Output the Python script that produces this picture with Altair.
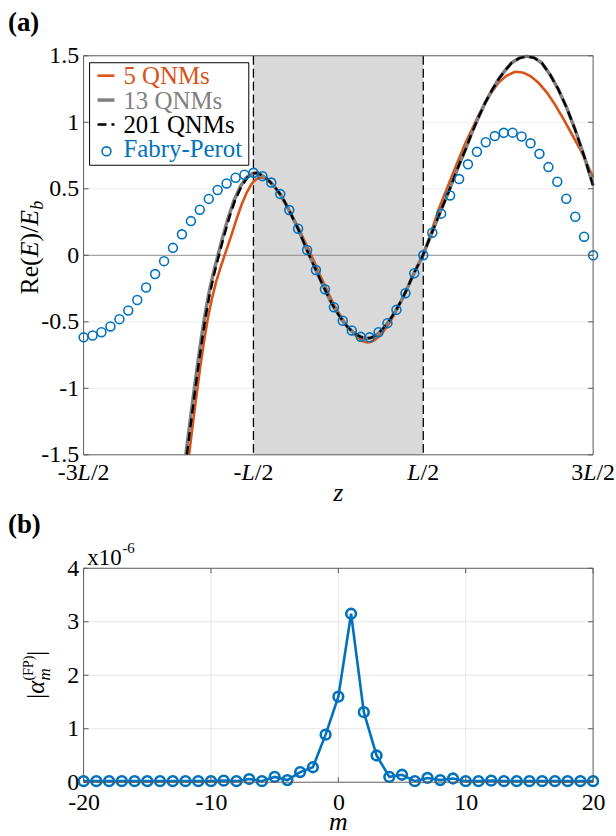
import altair as alt
import pandas as pd

SERIF = "Liberation Serif, Times New Roman, Times, serif"
ORANGE = "#D95319"
BLUE = "#0072BD"
GRAY13 = "#808080"
BOX = "#5a5a5a"
W_A, H_A = 512, 401
W_B, H_B = 512, 215

# ---------------- Panel (a) data ----------------
FP_Z = [-1.500, -1.447, -1.395, -1.342, -1.289, -1.237, -1.184, -1.132, -1.079, -1.026,
        -0.974, -0.921, -0.868, -0.816, -0.763, -0.711, -0.658, -0.605, -0.553, -0.500,
        -0.447, -0.395, -0.342, -0.289, -0.237, -0.184, -0.132, -0.079, -0.026, 0.026,
        0.079, 0.132, 0.184, 0.237, 0.289, 0.342, 0.395, 0.447, 0.500, 0.553,
        0.605, 0.658, 0.711, 0.763, 0.816, 0.868, 0.921, 0.974, 1.026, 1.079,
        1.132, 1.184, 1.237, 1.289, 1.342, 1.395, 1.447, 1.500]
FP_RE = [-0.617, -0.603, -0.578, -0.535, -0.480, -0.415, -0.336, -0.242, -0.141, -0.044,
         0.056, 0.158, 0.257, 0.343, 0.424, 0.491, 0.540, 0.583, 0.606, 0.620,
         0.595, 0.547, 0.460, 0.340, 0.200, 0.040, -0.110, -0.255, -0.390, -0.492,
         -0.565, -0.613, -0.617, -0.578, -0.510, -0.410, -0.285, -0.135, 0.000, 0.170,
         0.313, 0.450, 0.573, 0.684, 0.778, 0.850, 0.896, 0.921, 0.922, 0.893,
         0.842, 0.763, 0.663, 0.553, 0.425, 0.290, 0.140, 0.000]

Q5_Z = [-0.879, -0.857, -0.834, -0.812, -0.790, -0.768, -0.745, -0.720, -0.692, -0.662,
        -0.630, -0.600, -0.570, -0.540, -0.512, -0.487, -0.463, -0.440, -0.416,
        -0.393, -0.366, -0.346, -0.316, -0.287, -0.258, -0.229, -0.200, -0.170, -0.140,
        -0.111, -0.082, -0.053, -0.024, 0.006, 0.035, 0.064, 0.094, 0.123, 0.150,
        0.170, 0.190, 0.211, 0.237, 0.264, 0.290, 0.316, 0.343, 0.369, 0.396,
        0.422, 0.449, 0.475, 0.498, 0.520, 0.543, 0.592, 0.650, 0.709, 0.750,
        0.787, 0.826, 0.865, 0.904, 0.943, 0.990, 1.040, 1.085, 1.131, 1.180,
        1.228, 1.277, 1.326, 1.375, 1.423, 1.460, 1.500]
Q5_RE = [-1.5, -1.27, -1.04, -0.83, -0.64, -0.47, -0.33, -0.20, -0.085, 0.03,
         0.15, 0.27, 0.38, 0.47, 0.535, 0.57, 0.585, 0.582, 0.565,
         0.54, 0.50, 0.46, 0.40, 0.33, 0.26, 0.19, 0.11, 0.03, -0.055,
         -0.14, -0.22, -0.30, -0.375, -0.44, -0.50, -0.55, -0.595, -0.625, -0.648,
         -0.655, -0.652, -0.64, -0.612, -0.575, -0.53, -0.475, -0.415, -0.35, -0.277,
         -0.20, -0.125, -0.055, 0.005, 0.08, 0.16, 0.35, 0.537, 0.724, 0.85,
         0.949, 1.055, 1.148, 1.23, 1.298, 1.35, 1.38, 1.375, 1.348, 1.295,
         1.223, 1.13, 1.023, 0.91, 0.799, 0.70, 0.587]

Q201_Z = [-0.892, -0.870, -0.848, -0.826, -0.804, -0.781, -0.757, -0.731, -0.703, -0.674,
          -0.643, -0.609, -0.570, -0.535, -0.500,
          -0.475, -0.451, -0.420, -0.393, -0.366, -0.340, -0.313, -0.287, -0.260, -0.234,
          -0.208, -0.182, -0.155, -0.129, -0.102, -0.076, -0.050, -0.024, 0.003, 0.029,
          0.055, 0.082, 0.108, 0.135, 0.160, 0.185, 0.211, 0.237, 0.264, 0.290,
          0.316, 0.343, 0.369, 0.396, 0.422, 0.449, 0.475, 0.498,
          0.543, 0.592, 0.650, 0.709, 0.750, 0.787, 0.826, 0.865, 0.904, 0.943,
          0.982, 1.021, 1.065, 1.109, 1.153, 1.197, 1.246, 1.295, 1.344, 1.393, 1.446, 1.500]
Q201_RE = [-1.5, -1.28, -1.06, -0.85, -0.65, -0.46, -0.29, -0.14, 0.0, 0.14,
           0.28, 0.41, 0.52, 0.585, 0.615,
           0.62, 0.60, 0.575, 0.54, 0.50, 0.455, 0.395, 0.33, 0.26, 0.19,
           0.11, 0.03, -0.045, -0.12, -0.195, -0.265, -0.335, -0.395, -0.45, -0.50,
           -0.54, -0.572, -0.597, -0.615, -0.623, -0.622, -0.61, -0.585, -0.55, -0.508,
           -0.46, -0.405, -0.345, -0.275, -0.20, -0.125, -0.06, 0.0,
           0.145, 0.30, 0.48, 0.675, 0.80, 0.924, 1.04, 1.148, 1.24, 1.323,
           1.39, 1.448, 1.482, 1.497, 1.485, 1.448, 1.36, 1.248, 1.11, 0.949, 0.75, 0.525]

Q13_Z = [-0.898, -0.876, -0.854, -0.832, -0.810, -0.787, -0.763, -0.737, -0.709, -0.680,
         -0.649, -0.615, -0.576, -0.541, -0.506] + Q201_Z[15:]
Q13_RE = list(Q201_RE)

SLAB = [-0.5, 0.5]
XTICKS_A = [-1.5, -0.5, 0.5, 1.5]
XLAB_PRE = ["-3", "-", "", "3"]
XLAB_SUF = ["/2", "/2", "/2", "/2"]
YTICKS_A = [-1.5, -1.0, -0.5, 0.0, 0.5, 1.0, 1.5]
YGRID_A = [-1.0, -0.5, 0.5, 1.0]
LEGEND_LABELS = ["5 QNMs", "13 QNMs", "201 QNMs", "Fabry-Perot"]

# ---------------- Panel (b) data ----------------
M = list(range(-20, 21))
ALPHA = [0.02, 0.02, 0.02, 0.02, 0.02, 0.02, 0.02, 0.02, 0.02, 0.02,
         0.02, 0.03, 0.02, 0.06, 0.02, 0.10, 0.04, 0.19, 0.28, 0.89,
         1.60, 3.15, 1.31, 0.50, 0.10, 0.14, 0.02, 0.08, 0.04, 0.07, 0.02,
         0.02, 0.03, 0.02, 0.02, 0.02, 0.02, 0.02, 0.02, 0.02, 0.02]
XTICKS_B = [-20, -10, 0, 10, 20]
YTICKS_B = [0, 1, 2, 3, 4]
XGRID_B = [-10, 0, 10]
YGRID_B = [1, 2, 3]

# ---------------- helpers ----------------
REG_W = {'R': .667, 'e': .444, '(': .333, ')': .333, '/': .278, '|': .2, 'F': .556,
         'P': .556, '-': .333, 'x': .5, ' ': .25}
ITA_W = {'E': .611, 'b': .5, 'm': .722, 'α': .53, 'L': .556, 'z': .389}


def tw(s, size, italic=False):
    tab = ITA_W if italic else REG_W
    return sum(tab.get(c, 0.5) for c in s) * size


ONE = pd.DataFrame({"k": [0]})


def txt(text, x, y, size, color="black", italic=False, bold=False, angle=0,
        align="left", baseline="alphabetic"):
    return alt.Chart(ONE).mark_text(
        text=text, font=SERIF, fontSize=size, color=color,
        fontStyle="italic" if italic else "normal",
        fontWeight="bold" if bold else "normal",
        angle=angle, align=align, baseline=baseline,
    ).encode(x=alt.value(x), y=alt.value(y))


def hrule(x1, x2, y, color, width=1.0, dash=None):
    kw = dict(color=color, strokeWidth=width)
    if dash:
        kw["strokeDash"] = dash
    return alt.Chart(ONE).mark_rule(**kw).encode(x=alt.value(x1), x2=alt.value(x2), y=alt.value(y))


def vrule(x, y1, y2, color, width=1.0):
    return alt.Chart(ONE).mark_rule(color=color, strokeWidth=width).encode(
        x=alt.value(x), y=alt.value(y1), y2=alt.value(y2))


# ---------------- Panel (a) ----------------
SX_A = alt.Scale(domain=[-1.5, 1.5], nice=False, zero=False)
SY_A = alt.Scale(domain=[-1.5, 1.5], nice=False, zero=False)
AX_XA = alt.Axis(labels=False, ticks=False, domain=False, grid=False, title=None)
AX_YA = alt.Axis(values=YTICKS_A, labelExpr="datum.value + ''", labelFont=SERIF,
                 labelFontSize=24, labelColor="black", labelPadding=5,
                 ticks=False, domain=False, grid=False, title=None)


def xa(f):
    return alt.X(f"{f}:Q", scale=SX_A, axis=AX_XA)


def ya(f):
    return alt.Y(f"{f}:Q", scale=SY_A, axis=AX_YA)


anchor = alt.Chart(ONE).mark_rect(opacity=0).encode(
    x=alt.value(-83), x2=alt.value(533), y=alt.value(-53), y2=alt.value(783))

grid_a = alt.Chart(pd.DataFrame({"v": YGRID_A})).mark_rule(color="#ebebeb", strokeWidth=1).encode(
    y=ya("v"), x=alt.value(0), x2=alt.value(W_A))

slab = alt.Chart(pd.DataFrame({"z0": [SLAB[0]], "z1": [SLAB[1]]})).mark_rect(color="#d9d9d9").encode(
    x=xa("z0"), x2=alt.X2("z1:Q"), y=alt.value(0), y2=alt.value(H_A))

zero_line = alt.Chart(pd.DataFrame({"v": [0.0]})).mark_rule(color="#8c8c8c", strokeWidth=1).encode(
    y=ya("v"), x=alt.value(0), x2=alt.value(W_A))

edges = alt.Chart(pd.DataFrame({"z": SLAB})).mark_rule(color="black", strokeWidth=1.3, strokeDash=[9, 4]).encode(
    x=xa("z"), y=alt.value(0), y2=alt.value(H_A))

l5 = alt.Chart(pd.DataFrame({"z": Q5_Z, "re": Q5_RE})).mark_line(color=ORANGE, strokeWidth=2.6).encode(
    x=xa("z"), y=ya("re"))
l13 = alt.Chart(pd.DataFrame({"z": Q13_Z, "re": Q13_RE})).mark_line(color=GRAY13, strokeWidth=3.5).encode(
    x=xa("z"), y=ya("re"))
l201 = alt.Chart(pd.DataFrame({"z": Q201_Z, "re": Q201_RE})).mark_line(
    color="black", strokeWidth=2.4, strokeDash=[9, 5]).encode(x=xa("z"), y=ya("re"))
fp = alt.Chart(pd.DataFrame({"z": FP_Z, "re": FP_RE})).mark_point(
    shape="circle", filled=False, size=80, strokeWidth=1.6, color=BLUE, opacity=1).encode(
    x=xa("z"), y=ya("re"))

box_a = [hrule(0, W_A, 0, BOX), hrule(0, W_A, H_A, BOX), vrule(0, 0, H_A, BOX), vrule(W_A, 0, H_A, BOX)]
yt_df = pd.DataFrame({"v": YTICKS_A})
ticks_a = [
    alt.Chart(yt_df).mark_rule(color=BOX).encode(y=ya("v"), x=alt.value(0), x2=alt.value(5)),
    alt.Chart(yt_df).mark_rule(color=BOX).encode(y=ya("v"), x=alt.value(W_A - 5), x2=alt.value(W_A)),
]

# x tick labels of panel (a) with italic L
PPU = W_A / 3.0
LBL = 24
rows_pre, rows_l, rows_suf = [], [], []
for z, pre, suf in zip(XTICKS_A, XLAB_PRE, XLAB_SUF):
    pw, lw, sw = tw(pre, LBL), tw("L", LBL, True), tw(suf, LBL)
    start = -(pw + lw + sw) / 2.0
    rows_pre.append({"z": z + (start + pw) / PPU, "t": pre})
    rows_l.append({"z": z + (start + pw) / PPU, "t": "L"})
    rows_suf.append({"z": z + (start + pw + lw) / PPU, "t": suf})
XL_Y = H_A + 25
xlab_a = [
    alt.Chart(pd.DataFrame(rows_pre)).mark_text(font=SERIF, fontSize=LBL, align="right", baseline="alphabetic", color="black").encode(
        x=xa("z"), y=alt.value(XL_Y), text="t:N"),
    alt.Chart(pd.DataFrame(rows_l)).mark_text(font=SERIF, fontSize=LBL, fontStyle="italic", align="left", baseline="alphabetic", color="black").encode(
        x=xa("z"), y=alt.value(XL_Y), text="t:N"),
    alt.Chart(pd.DataFrame(rows_suf)).mark_text(font=SERIF, fontSize=LBL, align="left", baseline="alphabetic", color="black").encode(
        x=xa("z"), y=alt.value(XL_Y), text="t:N"),
]

# y title Re(E)/E_b (rotated)
YT = 26
ytx, yty = -46, 240
pieces = [("Re(", False, YT, 0), ("E", True, YT, 0), (")/", False, YT, 0), ("E", True, YT, 0)]
ytitle_a = []
off = 0.0
for s, it, sz, sh in pieces:
    ytitle_a.append(txt(s, ytx + sh, yty - off, sz, italic=it, angle=270))
    off += tw(s, sz, it)
ytitle_a.append(txt("b", ytx + 5, yty - off, 18, italic=True, angle=270))

# legend
LX0, LX1, LY0, LY1 = 6, 166, 7, 110
legend = [
    alt.Chart(ONE).mark_rect(fill="white", stroke="black", strokeWidth=1).encode(
        x=alt.value(LX0), x2=alt.value(LX1), y=alt.value(LY0), y2=alt.value(LY1)),
    hrule(14, 31, 20, ORANGE, 2.6),
    hrule(14, 31, 44.5, GRAY13, 3.5),
    hrule(14, 31, 69, "black", 2.4, [9, 5]),
    alt.Chart(ONE).mark_point(shape="circle", filled=False, size=80, strokeWidth=1.6, color=BLUE, opacity=1).encode(
        x=alt.value(23), y=alt.value(96)),
]
for lab, col, yb in zip(LEGEND_LABELS, [ORANGE, GRAY13, "black", BLUE], [28.5, 53, 77.5, 102]):
    legend.append(txt(lab, 40, yb, 25, color=col))

panel_a = alt.layer(
    anchor, grid_a, slab, zero_line, edges, l5, l13, l201, fp,
    *box_a, *ticks_a, *xlab_a, *ytitle_a, *legend,
    txt("z", W_A / 2, H_A + 46, 26, italic=True, align="center"),
    txt("(a)", -76, -25, 27, bold=True),
).properties(width=W_A, height=H_A)

# ---------------- Panel (b) ----------------
SX_B = alt.Scale(domain=[-20, 20], nice=False, zero=False)
SY_B = alt.Scale(domain=[0, 4], nice=False, zero=False)
AX_XB = alt.Axis(values=XTICKS_B, labelExpr="datum.value + ''", labelFont=SERIF, labelFontSize=24,
                 labelColor="black", labelPadding=27, labelBaseline="alphabetic", labelFlush=False,
                 ticks=False, domain=False, grid=False, title=None)
AX_YB = alt.Axis(values=YTICKS_B, labelExpr="datum.value + ''", labelFont=SERIF, labelFontSize=24,
                 labelColor="black", labelPadding=5, ticks=False, domain=False, grid=False, title=None)


def xb(f):
    return alt.X(f"{f}:Q", scale=SX_B, axis=AX_XB)


def yb(f):
    return alt.Y(f"{f}:Q", scale=SY_B, axis=AX_YB)


grid_bx = alt.Chart(pd.DataFrame({"v": XGRID_B})).mark_rule(color="#e6e6e6").encode(
    x=xb("v"), y=alt.value(0), y2=alt.value(H_B))
grid_by = alt.Chart(pd.DataFrame({"v": YGRID_B})).mark_rule(color="#e6e6e6").encode(
    y=yb("v"), x=alt.value(0), x2=alt.value(W_B))

df_b = pd.DataFrame({"m": M, "a": ALPHA})
line_b = alt.Chart(df_b).mark_line(color=BLUE, strokeWidth=2.6).encode(x=xb("m"), y=yb("a"))
pts_b = alt.Chart(df_b).mark_point(shape="circle", filled=False, size=95, strokeWidth=2.6,
                                   color=BLUE, opacity=1).encode(x=xb("m"), y=yb("a"))

box_b = [hrule(0, W_B, 0, BOX), hrule(0, W_B, H_B, BOX), vrule(0, 0, H_B, BOX), vrule(W_B, 0, H_B, BOX)]
xt_b = pd.DataFrame({"v": XTICKS_B})
yt_b = pd.DataFrame({"v": YTICKS_B})
ticks_b = [
    alt.Chart(yt_b).mark_rule(color=BOX).encode(y=yb("v"), x=alt.value(0), x2=alt.value(5)),
    alt.Chart(yt_b).mark_rule(color=BOX).encode(y=yb("v"), x=alt.value(W_B - 5), x2=alt.value(W_B)),
    alt.Chart(xt_b).mark_rule(color=BOX).encode(x=xb("v"), y=alt.value(0), y2=alt.value(5)),
    alt.Chart(xt_b).mark_rule(color=BOX).encode(x=xb("v"), y=alt.value(H_B - 5), y2=alt.value(H_B)),
]

# y title |alpha_m^(FP)| (rotated)
bx, by = -40, 131
ytitle_b = [txt("|", bx, by, 25, angle=270)]
o = tw("|", 25)
ytitle_b.append(txt("α", bx, by - o, 25, italic=True, angle=270))
o += tw("α", 25, True)
ytitle_b.append(txt("m", bx + 6, by - o, 17, italic=True, angle=270))
ytitle_b.append(txt("(FP)", bx - 11, by - o, 14, angle=270))
o += max(tw("m", 17, True), tw("(FP)", 14))
ytitle_b.append(txt("|", bx, by - o, 25, angle=270))

panel_b = alt.layer(
    grid_bx, grid_by, line_b, pts_b, *box_b, *ticks_b, *ytitle_b,
    txt("x10", 3.7, -3, 23),
    txt("-6", 39, -15, 15),
    txt("m", W_B / 2, H_B + 48, 26, italic=True, align="center"),
    txt("(b)", -76, -35, 27, bold=True),
).properties(width=W_B, height=H_B)

chart = alt.vconcat(panel_a, panel_b, spacing=114, bounds="flush").properties(
    padding=0, autosize=alt.AutoSizeParams(type="pad"), background="white"
).configure_view(stroke="transparent")

chart.save("out.html", embed_options={"renderer": "svg", "actions": False})
